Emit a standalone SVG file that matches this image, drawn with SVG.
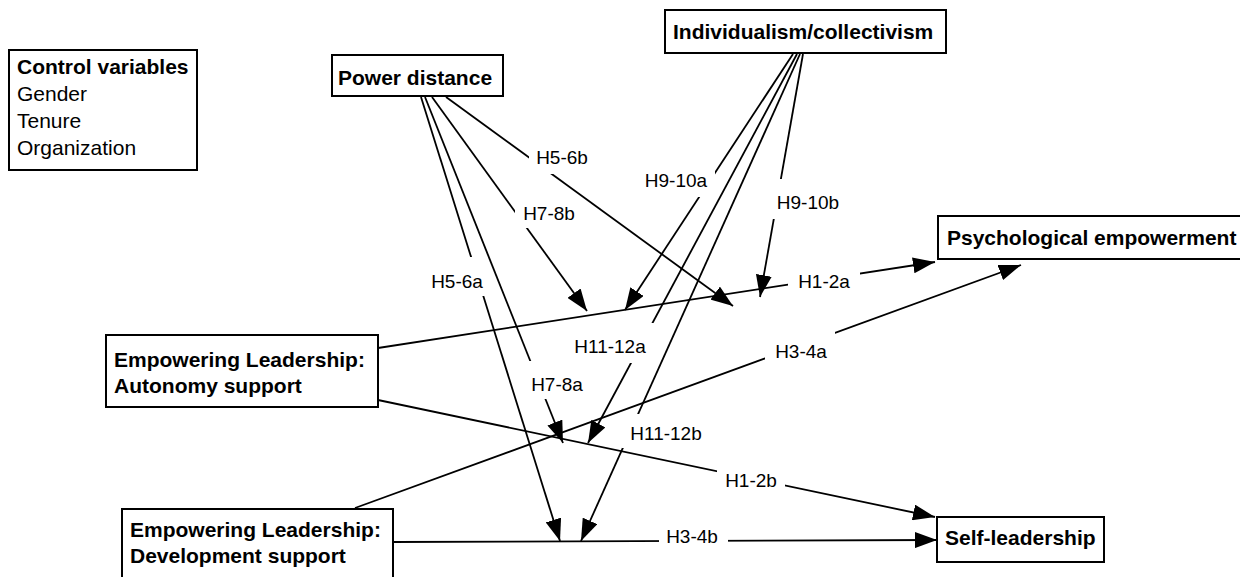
<svg xmlns="http://www.w3.org/2000/svg" width="1240" height="577" viewBox="0 0 1240 577">
  <style>
    .box { fill: #fff; stroke: #000; stroke-width: 2; }
    .title { font-family: "Liberation Sans", Arial, sans-serif; font-size: 21px; font-weight: bold; fill: #000; }
    .plain { font-family: "Liberation Sans", Arial, sans-serif; font-size: 21px; fill: #000; }
    .edge { fill: none; stroke: #000; stroke-width: 1.8; }
    .lbl { font-family: "Liberation Sans", Arial, sans-serif; font-size: 19px; fill: #000; text-anchor: middle; }
    .lblbg { fill: #fff; stroke: none; }
  </style>
  <defs>
    <marker id="arrow" markerUnits="userSpaceOnUse" markerWidth="22" markerHeight="16" refX="22" refY="8" orient="auto">
      <path d="M0,0 L22,8 L0,16 Z" fill="#000"/>
    </marker>
  </defs>
  <rect width="1240" height="577" fill="#fff"/>

  <!-- connectors with their labels -->
  <g id="connectors">
    <path class="edge" d="M421,97 L560,541" marker-end="url(#arrow)"/>
    <path class="edge" d="M425,97 L563,443" marker-end="url(#arrow)"/>
    <path class="edge" d="M432,97 L587,311" marker-end="url(#arrow)"/>
    <path class="edge" d="M446,97 L733,306" marker-end="url(#arrow)"/>
    <path class="edge" d="M793,54 L625,310" marker-end="url(#arrow)"/>
    <path class="edge" d="M797,54 L588,443" marker-end="url(#arrow)"/>
    <path class="edge" d="M800,54 L581,541" marker-end="url(#arrow)"/>
    <path class="edge" d="M803,54 L760,297" marker-end="url(#arrow)"/>
    <path class="edge" d="M378,348 L935,262" marker-end="url(#arrow)"/>
    <path class="edge" d="M355,508 L1021,265" marker-end="url(#arrow)"/>
    <path class="edge" d="M378,400 L935,517" marker-end="url(#arrow)"/>
    <path class="edge" d="M393,542 L937,540" marker-end="url(#arrow)"/>

    <rect class="lblbg" x="426" y="257" width="60" height="39"/>
    <text class="lbl" x="457" y="288">H5-6a</text>
    <rect class="lblbg" x="524" y="361" width="67" height="38"/>
    <text class="lbl" x="557" y="391">H7-8a</text>
    <rect class="lblbg" x="515" y="200" width="65" height="28"/>
    <text class="lbl" x="549" y="220">H7-8b</text>
    <rect class="lblbg" x="529" y="134" width="67" height="40"/>
    <text class="lbl" x="562" y="164">H5-6b</text>
    <rect class="lblbg" x="638" y="157" width="77" height="40"/>
    <text class="lbl" x="676" y="187">H9-10a</text>
    <rect class="lblbg" x="769" y="179" width="78" height="40"/>
    <text class="lbl" x="808" y="209">H9-10b</text>
    <rect class="lblbg" x="565" y="323" width="89" height="40"/>
    <text class="lbl" x="610" y="353">H11-12a</text>
    <rect class="lblbg" x="622" y="414" width="88" height="34"/>
    <text class="lbl" x="666" y="440">H11-12b</text>
    <rect class="lblbg" x="788" y="262" width="72" height="34"/>
    <text class="lbl" x="824" y="288">H1-2a</text>
    <rect class="lblbg" x="765" y="328" width="70" height="38"/>
    <text class="lbl" x="801" y="358">H3-4a</text>
    <rect class="lblbg" x="717" y="465" width="68" height="30"/>
    <text class="lbl" x="751" y="487">H1-2b</text>
    <rect class="lblbg" x="659" y="525" width="69" height="25"/>
    <text class="lbl" x="692" y="543">H3-4b</text>
  </g>

  <g id="control-variables">
    <rect class="box" x="9" y="50" width="188" height="120"/>
    <text class="title" x="17" y="74">Control variables</text>
    <text class="plain" x="17" y="101">Gender</text>
    <text class="plain" x="17" y="128">Tenure</text>
    <text class="plain" x="17" y="155">Organization</text>
  </g>

  <g id="power-distance">
    <rect class="box" x="332" y="55" width="171" height="41"/>
    <text class="title" x="338" y="85">Power distance</text>
  </g>

  <g id="individualism-collectivism">
    <rect class="box" x="665" y="10" width="281" height="43"/>
    <text class="title" x="673" y="39">Individualism/collectivism</text>
  </g>

  <g id="psychological-empowerment">
    <rect class="box" x="938" y="216" width="320" height="43"/>
    <text class="title" x="947" y="245">Psychological empowerment</text>
  </g>

  <g id="autonomy-support">
    <rect class="box" x="106" y="335" width="272" height="72"/>
    <text class="title" x="114" y="367">Empowering Leadership:</text>
    <text class="title" x="114" y="393">Autonomy support</text>
  </g>

  <g id="development-support">
    <rect class="box" x="122" y="509" width="271" height="80"/>
    <text class="title" x="130" y="537">Empowering Leadership:</text>
    <text class="title" x="130" y="563">Development support</text>
  </g>

  <g id="self-leadership">
    <rect class="box" x="937" y="517" width="167" height="45"/>
    <text class="title" x="945" y="545">Self-leadership</text>
  </g>
</svg>
